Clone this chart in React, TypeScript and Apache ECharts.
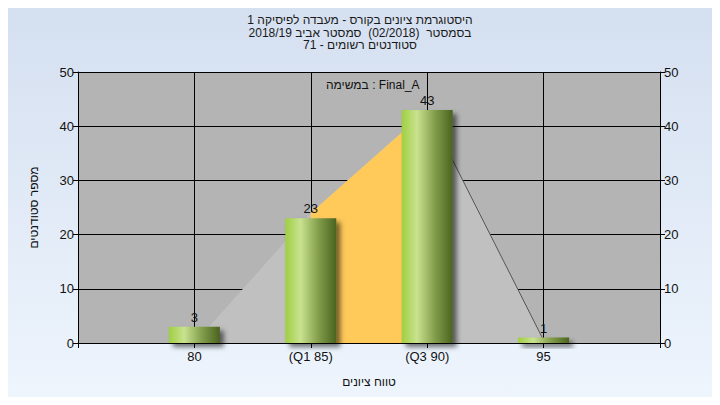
import React, { useEffect, useRef } from "react";
import * as echarts from "echarts";

const titleLines = [
  "היסטוגרמת ציונים בקורס - מעבדה לפיסיקה 1",
  "בסמסטר  (02/2018)  סמסטר אביב 2018/19",
  "סטודנטים רשומים - 71",
];
const subtitle = "במשימה : Final_A";
const xAxisTitle = "טווח ציונים";
const yAxisTitle = "מספר סטודנטים";

const categories = ["", "80", "(Q1 85)", "(Q3 90)", "95", ""];
const counts: (number | null)[] = [null, 3, 23, 43, 1, null];
const curve: (number | null)[] = [null, 0, 24, 43, 0.5, null];
const quartileCurve: (number | null)[] = [null, null, 24, 43, null, null];
const tailLine: (number | null)[] = [null, null, null, 43, 0.5, null];
const yTicks = { min: 0, max: 50, interval: 10 };

const FONT = "'Liberation Sans', Arial, 'DejaVu Sans', sans-serif";

export default function App() {
  const ref = useRef<HTMLDivElement>(null);
  useEffect(() => {
    if (!ref.current) return;
    const chart = echarts.init(ref.current, null, { renderer: "svg" });
    const yAxisCommon = {
      type: "value" as const,
      min: yTicks.min,
      max: yTicks.max,
      interval: yTicks.interval,
      axisLine: { show: true, lineStyle: { color: "#000", width: 1 } },
      axisTick: { show: true, length: 5, lineStyle: { color: "#000" } },
      axisLabel: { color: "#111", fontSize: 13, fontFamily: FONT, margin: 4 },
    };
    chart.setOption({
      animation: false,
      backgroundColor: new echarts.graphic.LinearGradient(0, 0, 0, 1, [
        { offset: 0, color: "#d4dff0" },
        { offset: 1, color: "#eef5fd" },
      ]),
      title: {
        text: titleLines.join("\n"),
        left: "center",
        top: 9,
        textStyle: {
          fontSize: 12,
          fontWeight: "normal",
          color: "#1a1a1a",
          fontFamily: FONT,
          lineHeight: 12.5,
        },
      },
      graphic: [
        {
          type: "text",
          left: 326,
          top: 79,
          style: { text: subtitle, fontSize: 12, fill: "#111", fontFamily: FONT },
        },
      ],
      grid: {
        left: 78,
        right: 60,
        top: 72,
        bottom: 62,
        show: true,
        backgroundColor: "#b4b4b4",
        borderWidth: 0,
      },
      xAxis: {
        type: "category",
        data: categories,
        boundaryGap: false,
        name: xAxisTitle,
        nameLocation: "middle",
        nameGap: 33,
        nameTextStyle: { color: "#111", fontSize: 12, fontFamily: FONT },
        axisLine: { show: true, lineStyle: { color: "#000", width: 1 } },
        axisTick: { show: true, length: 5, alignWithLabel: true, lineStyle: { color: "#000" } },
        axisLabel: { color: "#111", fontSize: 13, fontFamily: FONT, margin: 7, interval: 0 },
        splitLine: { show: true, lineStyle: { color: "#000", width: 1 } },
      },
      yAxis: [
        {
          ...yAxisCommon,
          position: "left",
          name: yAxisTitle,
          nameLocation: "middle",
          nameRotate: 90,
          nameGap: 38,
          nameTextStyle: { color: "#111", fontSize: 12, fontFamily: FONT },
          splitLine: { show: true, lineStyle: { color: "#000", width: 1 } },
        },
        {
          ...yAxisCommon,
          position: "right",
          splitLine: { show: false },
        },
      ],
      series: [
        {
          type: "line",
          data: curve,
          symbol: "none",
          lineStyle: { width: 0 },
          areaStyle: { color: "#c0c0c0", opacity: 1 },
          z: 1,
        },
        {
          type: "line",
          data: quartileCurve,
          symbol: "none",
          connectNulls: false,
          lineStyle: { width: 0 },
          areaStyle: { color: "#ffca5a", opacity: 1 },
          z: 2,
        },
        {
          type: "line",
          data: tailLine,
          symbol: "none",
          lineStyle: { width: 1, color: "#555" },
          z: 3,
        },
        {
          type: "bar",
          data: counts,
          barWidth: 51,
          z: 4,
          itemStyle: {
            color: new echarts.graphic.LinearGradient(0, 0, 1, 0, [
              { offset: 0, color: "#9fcf41" },
              { offset: 0.3, color: "#c9e290" },
              { offset: 0.65, color: "#829d4b" },
              { offset: 1, color: "#4a6320" },
            ]),
            shadowColor: "rgba(0,0,0,0.55)",
            shadowBlur: 5,
            shadowOffsetX: 4,
            shadowOffsetY: 4,
          },
          label: {
            show: true,
            position: "top",
            distance: 3,
            color: "#111",
            fontSize: 13,
            fontFamily: FONT,
          },
        },
      ],
    });
    return () => chart.dispose();
  }, []);
  return <div ref={ref} style={{ width: 720, height: 405, margin: -8 }} />;
}
